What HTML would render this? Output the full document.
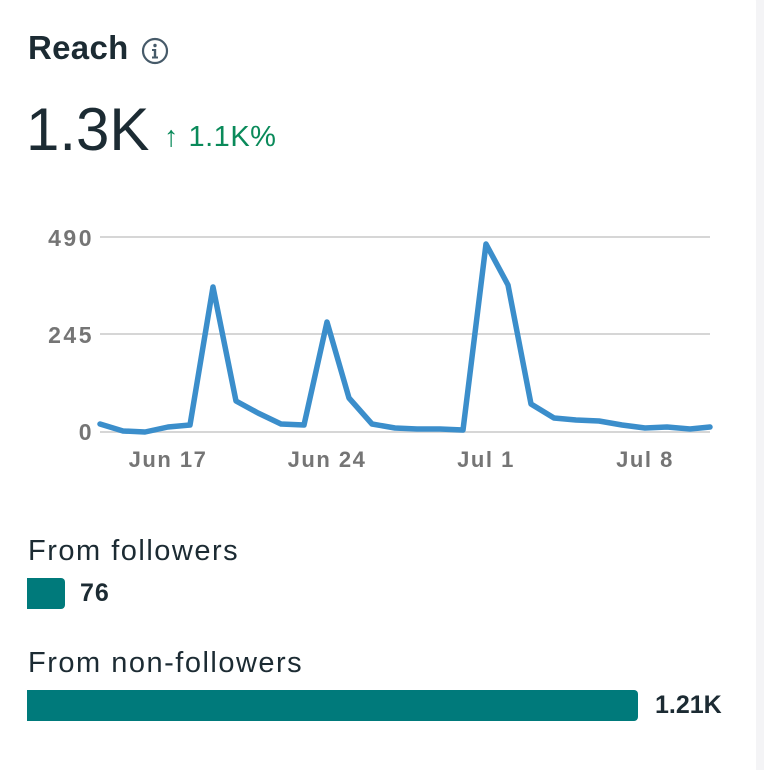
<!DOCTYPE html>
<html><head><meta charset="utf-8"><style>
html,body{margin:0;padding:0;width:764px;height:757px;overflow:hidden;background:#f4f4f6;font-family:"Liberation Sans",sans-serif;}
.card{position:absolute;left:0;top:-10px;width:756px;height:780px;background:#fff;border-radius:0 12px 0 0;}
.t{position:absolute;white-space:nowrap;color:#1c2b33;}
</style></head><body>
<div class="card"></div>
<div class="t" style="left:28px;top:29px;font-size:33px;font-weight:bold;letter-spacing:0.3px;">Reach</div>
<svg style="position:absolute;left:140px;top:36px" width="30" height="30" viewBox="0 0 30 30"><circle cx="15" cy="15" r="12" fill="none" stroke="#465a69" stroke-width="2.2"/><circle cx="15" cy="9.5" r="1.7" fill="#465a69"/><rect x="13.8" y="13" width="2.4" height="9" fill="#465a69"/><rect x="12" y="13" width="3" height="2" fill="#465a69"/><rect x="12" y="20.5" width="6" height="2" fill="#465a69"/></svg>
<div class="t" style="left:26px;top:95px;font-size:60px;">1.3K</div>
<div class="t" style="left:164px;top:121px;font-size:29px;color:#0a8a5a;">↑<span style="margin-left:10px;letter-spacing:0.5px">1.1K%</span></div>
<svg style="position:absolute;left:0;top:0" width="764" height="520">
<g stroke="#d6d6d6" stroke-width="2"><line x1="100" y1="237" x2="710" y2="237"/><line x1="100" y1="334" x2="710" y2="334"/><line x1="100" y1="432" x2="710" y2="432"/></g>
<g font-family="Liberation Sans" font-weight="bold" font-size="23" fill="#757575" letter-spacing="2.5">
<text x="94" y="246" text-anchor="end">490</text><text x="94" y="343" text-anchor="end">245</text><text x="94" y="440" text-anchor="end">0</text>
<g font-size="22" letter-spacing="1.5" text-anchor="middle"><text x="168" y="467">Jun 17</text><text x="327" y="467">Jun 24</text><text x="486" y="467">Jul 1</text><text x="645" y="467">Jul 8</text></g>
</g>
<polyline fill="none" stroke="#3b8ecb" stroke-width="5.5" stroke-linejoin="round" stroke-linecap="round" points="100,424 123,431 145,432 168,427 190,425 213,287 236,401 258,413 281,424 304,425 327,322 349,398 372,424 395,428 417,429 440,429 463,430 486,244 508,285 531,404 554,418 576,420 599,421 622,425 645,428 667,427 690,429 710,427"/>
</svg>
<div class="t" style="left:28px;top:535px;font-size:29px;letter-spacing:1.5px;">From followers</div>
<div style="position:absolute;left:27px;top:578px;width:38px;height:31px;background:#007a7b;border-radius:0 4px 4px 0;"></div>
<div class="t" style="left:80px;top:579px;font-size:25px;font-weight:bold;letter-spacing:1px;">76</div>
<div class="t" style="left:28px;top:647px;font-size:29px;letter-spacing:1.5px;">From non-followers</div>
<div style="position:absolute;left:27px;top:690px;width:611px;height:31px;background:#007a7b;border-radius:0 4px 4px 0;"></div>
<div class="t" style="left:655px;top:691px;font-size:25px;font-weight:bold;">1.21K</div>
</body></html>
